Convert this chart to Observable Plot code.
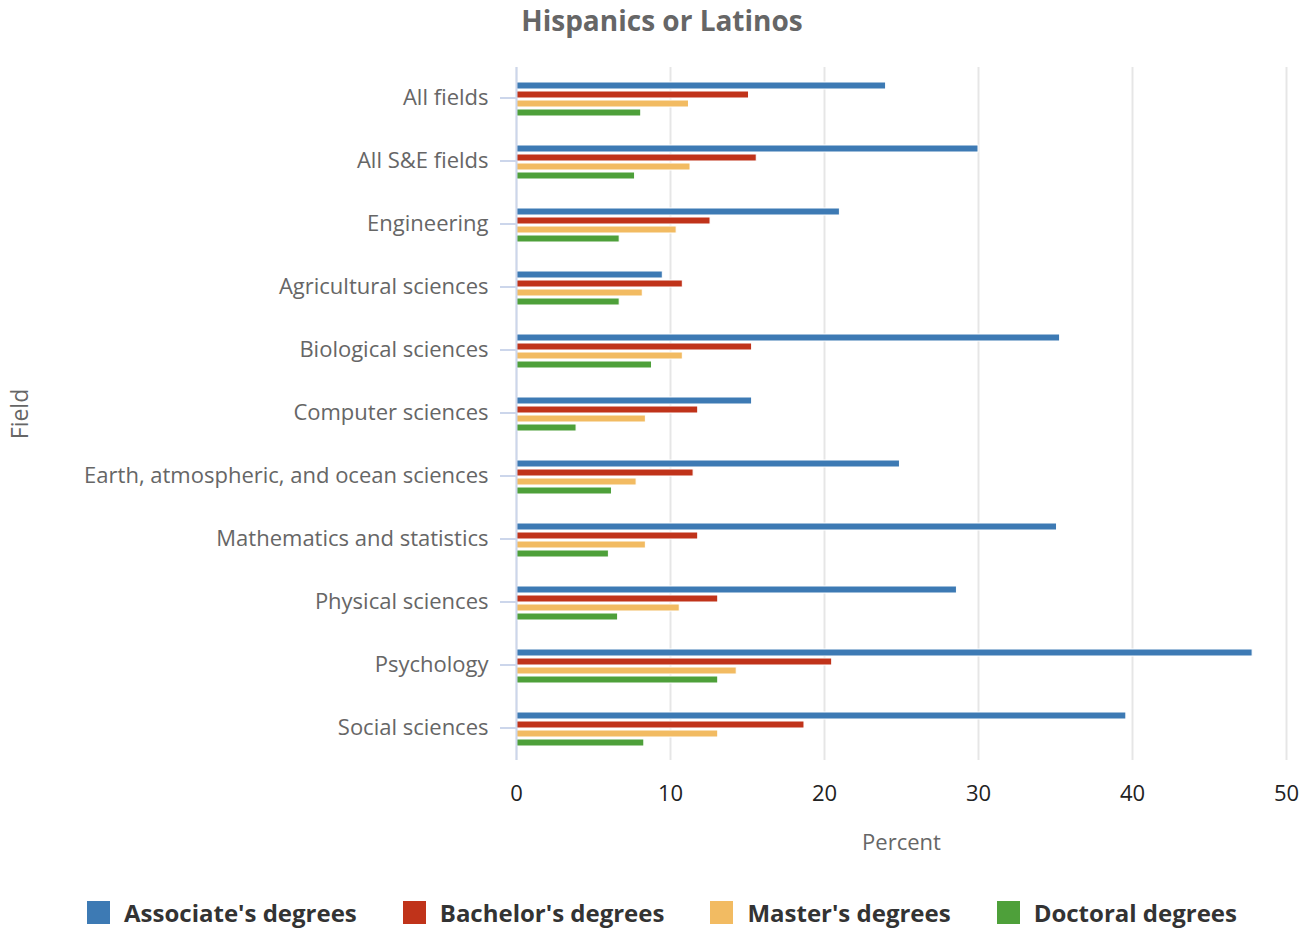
<!DOCTYPE html>
<html>
<head>
<meta charset="utf-8">
<script src="https://cdn.jsdelivr.net/npm/d3@7"></script>
<script src="https://cdn.jsdelivr.net/npm/@observablehq/plot@0.6"></script>
<style>
  html, body { margin: 0; padding: 0; background: #fff; overflow: hidden; }
  body { font-family: "Open Sans", sans-serif; }
  #wrap { position: relative; width: 1312px; height: 930px; }
  #title { position: absolute; left: 6px; top: 0; width: 1312px; height: 40px; line-height: 40px;
           text-align: center; font-weight: bold; font-size: 28px; color: #666; }
  #chart { position: absolute; left: 0; top: 40px; }
  #legend { position: absolute; left: 6px; top: 898px; width: 1312px; display: flex; justify-content: center;
            gap: 46px; font-weight: bold; font-size: 24px; color: #333; }
  .item { display: flex; align-items: center; gap: 14px; height: 28px; }
  .sw { width: 23px; height: 23px; display: inline-block; }
</style>
</head>
<body>
<div id="wrap">
  <div id="title">Hispanics or Latinos</div>
  <div id="chart"></div>
  <div id="legend"></div>
</div>
<script>
const fields = [
  "All fields", "All S&E fields", "Engineering", "Agricultural sciences", "Biological sciences",
  "Computer sciences", "Earth, atmospheric, and ocean sciences", "Mathematics and statistics",
  "Physical sciences", "Psychology", "Social sciences"
];
const degrees = ["Associate's degrees", "Bachelor's degrees", "Master's degrees", "Doctoral degrees"];
const colors = ["#3d7ab4", "#c0331a", "#f2bb62", "#4ea03a"];
const associate = [24.0, 30.0, 21.0, 9.5, 35.3, 15.3, 24.9, 35.1, 28.6, 47.8, 39.6];
const bachelor  = [15.1, 15.6, 12.6, 10.8, 15.3, 11.8, 11.5, 11.8, 13.1, 20.5, 18.7];
const master    = [11.2, 11.3, 10.4, 8.2, 10.8, 8.4, 7.8, 8.4, 10.6, 14.3, 13.1];
const doctoral  = [8.1, 7.7, 6.7, 6.7, 8.8, 3.9, 6.2, 6.0, 6.6, 13.1, 8.3];
const xTicks = [0, 10, 20, 30, 40, 50];

const series = [associate, bachelor, master, doctoral];
const data = fields.flatMap((f, i) => degrees.map((d, j) => ({field: f, degree: d, value: series[j][i]})));

const chart = Plot.plot({
  width: 1312,
  height: 830,
  marginTop: 25,
  marginBottom: 108,
  marginLeft: 516,
  marginRight: 26,
  style: {fontFamily: "Open Sans", background: "white"},
  x: {domain: [0, 50]},
  fy: {domain: fields, padding: 0},
  y: {domain: degrees, paddingInner: 0.25, paddingOuter: 1.45, axis: null},
  color: {domain: degrees, range: colors},
  marks: [
    Plot.gridX(xTicks, {stroke: "#e6e6e6", strokeOpacity: 1, strokeWidth: 2}),
    Plot.barX(data, {fy: "field", y: "degree", x: "value", fill: "degree", stroke: "white", strokeWidth: 1}),
    Plot.ruleX([0], {stroke: "#ccd6eb", strokeWidth: 2}),
    Plot.axisFy({anchor: "left", tickSize: 16, tickPadding: 12, stroke: "#ccd6eb", strokeWidth: 2, fill: "#666", fontSize: 22, label: null, dy: -1}),
    Plot.axisFy([], {anchor: "left", label: "Field", labelAnchor: "center", labelOffset: 505, fill: "#666", fontSize: 23, tickSize: 0}),
    Plot.axisX(xTicks, {tickSize: 0, tickPadding: 25, fontSize: 22, fill: "#222", label: null}),
    Plot.axisX([], {label: "Percent", labelAnchor: "center", labelArrow: "none", labelOffset: 89, fill: "#666", fontSize: 22, tickSize: 0})
  ]
});
document.getElementById("chart").appendChild(chart);

const legend = document.getElementById("legend");
degrees.forEach((d, i) => {
  const item = document.createElement("div");
  item.className = "item";
  const sw = document.createElement("span");
  sw.className = "sw";
  sw.style.background = colors[i];
  const t = document.createElement("span");
  t.textContent = d;
  item.appendChild(sw);
  item.appendChild(t);
  legend.appendChild(item);
});
</script>
</body>
</html>
